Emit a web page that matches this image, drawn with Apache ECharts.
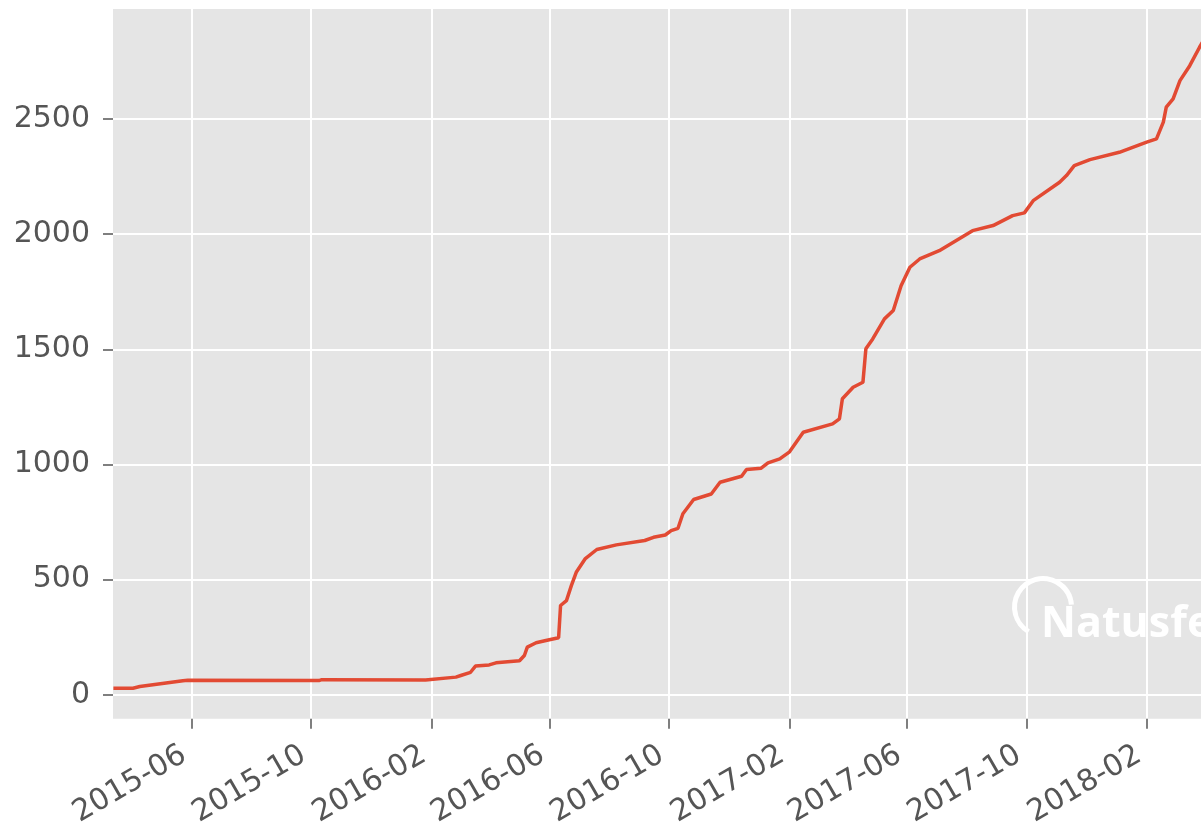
<!DOCTYPE html>
<html>
<head>
<meta charset="utf-8">
<script src="https://cdn.jsdelivr.net/npm/echarts@6/dist/echarts.min.js"></script>
<style>
  html, body { margin: 0; padding: 0; background: #fff; }
  #chart { width: 1201px; height: 830px; }
</style>
</head>
<body>
<div id="chart"></div>
<script>
const dates = [
  '2015-03-13', '2015-04-02', '2015-04-09', '2015-05-23', '2015-05-28', '2015-10-09', '2015-10-12',
  '2016-01-26', '2016-02-26', '2016-03-02', '2016-03-12', '2016-03-17', '2016-03-31', '2016-04-07',
  '2016-05-01', '2016-05-06', '2016-05-09', '2016-05-18', '2016-05-28', '2016-06-10', '2016-06-12',
  '2016-06-18', '2016-06-23', '2016-06-28',
  '2016-07-07', '2016-07-19', '2016-08-08', '2016-09-06', '2016-09-15', '2016-09-27', '2016-10-03',
  '2016-10-10', '2016-10-15', '2016-10-26', '2016-11-13', '2016-11-22', '2016-12-14', '2016-12-19',
  '2017-01-03', '2017-01-10', '2017-01-22', '2017-02-01', '2017-02-15', '2017-03-17', '2017-03-24',
  '2017-03-27', '2017-04-07', '2017-04-17', '2017-04-20', '2017-04-27', '2017-05-09', '2017-05-18',
  '2017-05-26', '2017-06-04', '2017-06-14',
  '2017-07-04', '2017-08-07', '2017-08-28', '2017-09-17', '2017-09-29', '2017-10-08', '2017-11-04',
  '2017-11-11', '2017-11-19', '2017-12-05', '2018-01-04', '2018-02-01', '2018-02-11', '2018-02-18',
  '2018-02-21', '2018-02-28', '2018-03-07', '2018-03-17', '2018-03-27', '2018-03-31'
];
const counts = [
  29, 29, 36, 61, 63, 62, 66,
  65, 77, 84, 98, 125, 130, 139,
  148, 171, 207, 226, 236, 248, 388,
  409, 474, 532,
  590, 631, 651, 670, 684, 694, 713,
  723, 786, 848, 872, 923, 949, 978,
  984, 1007, 1024, 1055, 1140, 1176, 1198,
  1285, 1335, 1357, 1502, 1545, 1632, 1668,
  1776, 1856, 1892,
  1928, 2015, 2037, 2080, 2092, 2145, 2225,
  2254, 2297, 2323, 2355, 2399, 2413, 2486,
  2551, 2587, 2666, 2731, 2811, 2840
];

const xTickDates = ['2015-06-01', '2015-10-01', '2016-02-01', '2016-06-01', '2016-10-01',
  '2017-02-01', '2017-06-01', '2017-10-01', '2018-02-01'];
const yTicks = [0, 500, 1000, 1500, 2000, 2500];

const toTime = s => new Date(s + 'T00:00:00').getTime();
const xTicks = xTickDates.map(toTime);

const chart = echarts.init(document.getElementById('chart'));

const labelFont = {
  color: '#555555',
  fontFamily: 'DejaVu Sans',
  fontSize: 30
};

chart.setOption({
  animation: false,
  backgroundColor: '#ffffff',
  grid: {
    left: 113,
    right: 0,
    top: 9,
    bottom: 110,
    show: true,
    backgroundColor: '#E5E5E5',
    borderWidth: 0
  },
  xAxis: {
    type: 'value',
    min: toTime('2015-03-12') + 14 * 3600 * 1000,
    max: toTime('2018-03-28') + 12 * 3600 * 1000,
    axisLine: { show: false, onZero: false },
    axisTick: {
      show: true,
      length: 10,
      customValues: xTicks,
      lineStyle: { color: '#555555', width: 1.5 }
    },
    axisLabel: Object.assign({
      customValues: xTicks,
      rotate: 30,
      align: 'right',
      verticalAlign: 'bottom',
      margin: 47,
      formatter: v => {
        const d = new Date(v);
        return d.getFullYear() + '-' + String(d.getMonth() + 1).padStart(2, '0');
      }
    }, labelFont),
    splitLine: { show: true, lineStyle: { color: '#ffffff', width: 2 } }
  },
  yAxis: {
    type: 'value',
    min: -104,
    max: 2977,
    axisLine: { show: false, onZero: false },
    axisTick: {
      show: true,
      length: 10,
      customValues: yTicks,
      lineStyle: { color: '#555555', width: 1.5 }
    },
    axisLabel: Object.assign({
      customValues: yTicks,
      margin: 23,
      formatter: v => String(v)
    }, labelFont),
    splitLine: { show: true, lineStyle: { color: '#ffffff', width: 2 } }
  },
  series: [{
    type: 'line',
    data: dates.map((d, i) => [toTime(d), counts[i]]),
    showSymbol: false,
    lineStyle: { color: '#E24A33', width: 3.5 },
    itemStyle: { color: '#E24A33' }
  }],
  // watermark
  graphic: [
    {
      type: 'sector',
      shape: { cx: 1043, cy: 607, r: 31, r0: 26, startAngle: 2.1, endAngle: 6.2, clockwise: true },
      style: { fill: '#ffffff' },
      z: 10
    },
    {
      type: 'text',
      left: 1041,
      top: 603,
      style: {
        text: 'Natusfera',
        fill: '#ffffff',
        font: 'bold 43px "Open Sans"'
      },
      z: 10
    }
  ]
});
</script>
</body>
</html>
